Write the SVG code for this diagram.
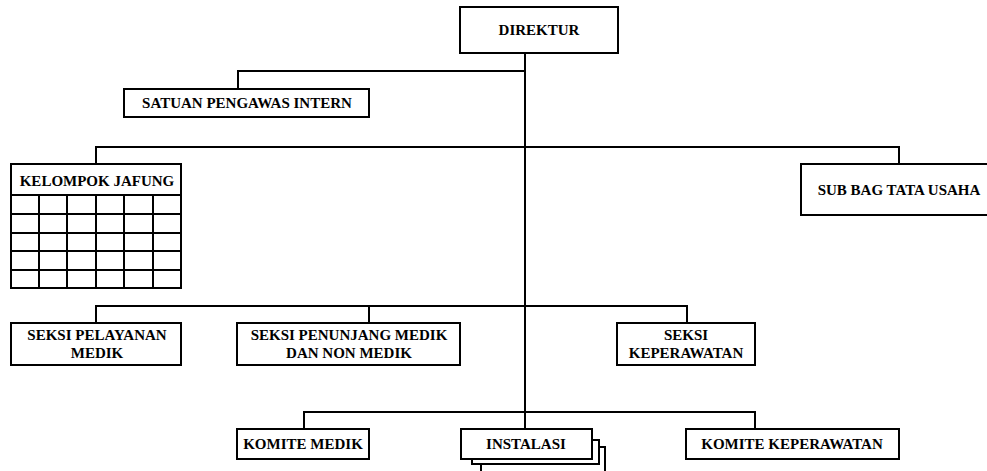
<svg xmlns="http://www.w3.org/2000/svg" width="987" height="471" viewBox="0 0 987 471">
<style>
.box{fill:#fff;stroke:#000;stroke-width:2}
.ln{fill:none;stroke:#000;stroke-width:2}
text{font-family:"Liberation Serif","Times New Roman",serif;font-weight:bold;font-size:15px;fill:#000;text-anchor:middle}
</style>
<rect width="987" height="471" fill="#fff"/>
<g id="connectors" class="ln">
<path d="M525 53 V429"/>
<path d="M238 89 V71 H525"/>
<path d="M96 164 V147 H899 V164"/>
<path d="M96 323 V306 H687 V323 M369 306 V323"/>
<path d="M304 429 V412 H755 V429"/>
</g>
<g id="direktur"><rect class="box" x="460" y="7" width="158" height="46"/><text x="539" y="35">DIREKTUR</text></g>
<g id="spi"><rect class="box" x="124" y="89" width="245" height="28"/><text x="247" y="108">SATUAN PENGAWAS INTERN</text></g>
<g id="kelompok-jafung">
<rect class="box" x="11" y="164" width="170" height="124"/>
<path class="ln" d="M11 195 H181 M11 214 H181 M11 233 H181 M11 251 H181 M11 270 H181 M39 195 V288 M67 195 V288 M96 195 V288 M124 195 V288 M153 195 V288"/>
<text x="97" y="186">KELOMPOK JAFUNG</text>
</g>
<g id="subbag"><rect class="box" x="801" y="164" width="196" height="51"/><text x="899" y="195">SUB BAG TATA USAHA</text></g>
<g id="seksi-pelayanan"><rect class="box" x="11" y="323" width="170" height="42"/><text x="97" y="340">SEKSI PELAYANAN</text><text x="97" y="358">MEDIK</text></g>
<g id="seksi-penunjang"><rect class="box" x="237" y="323" width="223" height="42"/><text x="349" y="340">SEKSI PENUNJANG MEDIK</text><text x="349" y="358">DAN NON MEDIK</text></g>
<g id="seksi-keperawatan"><rect class="box" x="617" y="323" width="138" height="42"/><text x="686" y="340">SEKSI</text><text x="686" y="358">KEPERAWATAN</text></g>
<g id="komite-medik"><rect class="box" x="237" y="429" width="132" height="30"/><text x="303" y="449">KOMITE MEDIK</text></g>
<g id="instalasi">
<rect class="box" x="481" y="447" width="124" height="40"/>
<rect class="box" x="472" y="440" width="127" height="24"/>
<rect class="box" x="461" y="429" width="131" height="30"/>
<text x="526" y="449">INSTALASI</text>
</g>
<g id="komite-keperawatan"><rect class="box" x="686" y="429" width="213" height="30"/><text x="792" y="449">KOMITE KEPERAWATAN</text></g>
</svg>
